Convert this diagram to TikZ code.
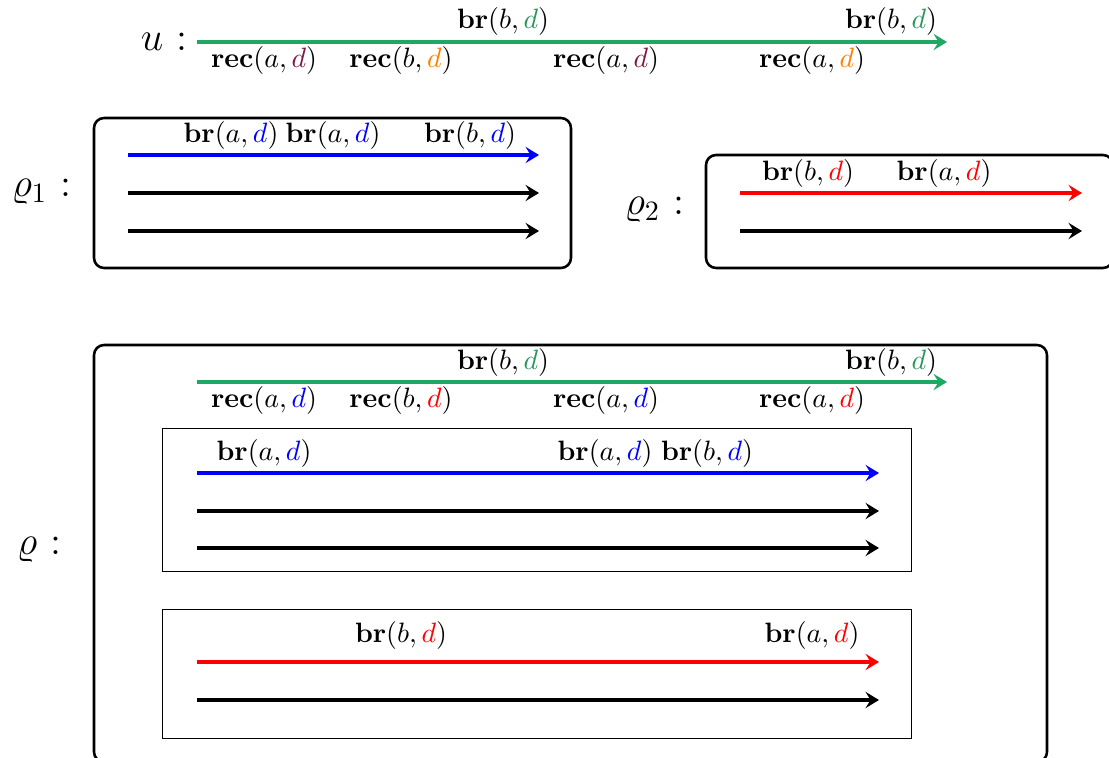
\documentclass[tikz,border=0pt]{standalone}
\usepackage{xcolor}
\usetikzlibrary{arrows.meta}
\definecolor{ugreen}{RGB}{30,168,100}
\definecolor{dgreen}{RGB}{40,150,90}
\definecolor{upurple}{RGB}{128,24,72}
\definecolor{uorange}{RGB}{255,128,0}
\newcommand\mybr[2]{$\mathbf{br}(#1,\textcolor{#2}{d})$}
\newcommand\myrec[2]{$\mathbf{rec}(#1,\textcolor{#2}{d})$}
\begin{document}
\begin{tikzpicture}[x=0.357pt,y=-0.357pt,
  lbl/.style={inner sep=0pt,anchor=center},
  arr/.style={line width=1.15pt,-{Stealth[length=4.8pt,width=5.8pt,inset=1.8pt]}},
  outerbox/.style={draw,line width=0.9pt,rounded corners=3.6pt},
  innerbox/.style={draw,line width=0.3pt},
  big/.style={font=\Large,inner sep=0pt,anchor=east}]
\useasboundingbox (0,0) rectangle (1109,758);

% ---- u ----
\node[big] (ulab) at (188,42) {$u$ :};
\coordinate (u0) at (197,42);
\coordinate (u1) at (947,42);
\draw[arr,ugreen] (u0) -- (u1);
\node[lbl] (ua1) at (503,21) {\mybr{b}{dgreen}};
\node[lbl] (ua2) at (891,21) {\mybr{b}{dgreen}};
\node[lbl] (ub1) at (264,61) {\myrec{a}{upurple}};
\node[lbl] (ub2) at (401,61) {\myrec{b}{uorange}};
\node[lbl] (ub3) at (606,61) {\myrec{a}{upurple}};
\node[lbl] (ub4) at (812,61) {\myrec{a}{uorange}};

% ---- rho1 ----
\node[big] (r1lab) at (72,192) {$\varrho_1$ :};
\draw[outerbox] (94,118) rectangle (571,268);
\coordinate (p1s) at (128,155); \coordinate (p1e) at (539,155);
\coordinate (p2s) at (128,193); \coordinate (p2e) at (539,193);
\coordinate (p3s) at (128,231); \coordinate (p3e) at (539,231);
\draw[arr,blue] (p1s) -- (p1e);
\draw[arr] (p2s) -- (p2e);
\draw[arr] (p3s) -- (p3e);
\node[lbl] (r1a) at (231,135) {\mybr{a}{blue}};
\node[lbl] (r1b) at (333,135) {\mybr{a}{blue}};
\node[lbl] (r1c) at (470,135) {\mybr{b}{blue}};

% ---- rho2 ----
\node[big] (r2lab) at (685,210) {$\varrho_2$ :};
\draw[outerbox] (706,155) rectangle (1113,268);
\coordinate (q1s) at (740,193); \coordinate (q1e) at (1082,193);
\coordinate (q2s) at (740,231); \coordinate (q2e) at (1082,231);
\draw[arr,red] (q1s) -- (q1e);
\draw[arr] (q2s) -- (q2e);
\node[lbl] (r2a) at (808,173) {\mybr{b}{red}};
\node[lbl] (r2b) at (944,173) {\mybr{a}{red}};

% ---- rho ----
\node[big] (rlab) at (62,550) {$\varrho$ :};
\draw[outerbox] (94,345) rectangle (1047,762);
\coordinate (g0) at (197,382);
\coordinate (g1) at (947,382);
\draw[arr,ugreen] (g0) -- (g1);
\node[lbl] (ga1) at (503,362) {\mybr{b}{dgreen}};
\node[lbl] (ga2) at (891,362) {\mybr{b}{dgreen}};
\node[lbl] (gb1) at (264,400) {\myrec{a}{blue}};
\node[lbl] (gb2) at (401,400) {\myrec{b}{red}};
\node[lbl] (gb3) at (606,400) {\myrec{a}{blue}};
\node[lbl] (gb4) at (812,400) {\myrec{a}{red}};

\draw[innerbox] (162,428) rectangle (911,571);
\coordinate (s1s) at (197,473); \coordinate (s1e) at (879,473);
\coordinate (s2s) at (197,511); \coordinate (s2e) at (879,511);
\coordinate (s3s) at (197,548); \coordinate (s3e) at (879,548);
\draw[arr,blue] (s1s) -- (s1e);
\draw[arr] (s2s) -- (s2e);
\draw[arr] (s3s) -- (s3e);
\node[lbl] (sa1) at (264,453) {\mybr{a}{blue}};
\node[lbl] (sa2) at (605,453) {\mybr{a}{blue}};
\node[lbl] (sa3) at (707,453) {\mybr{b}{blue}};

\draw[innerbox] (162,609) rectangle (911,738);
\coordinate (t1s) at (197,662); \coordinate (t1e) at (879,662);
\coordinate (t2s) at (197,700); \coordinate (t2e) at (879,700);
\draw[arr,red] (t1s) -- (t1e);
\draw[arr] (t2s) -- (t2e);
\node[lbl] (ta1) at (401,635) {\mybr{b}{red}};
\node[lbl] (ta2) at (812,635) {\mybr{a}{red}};
\end{tikzpicture}
\end{document}
